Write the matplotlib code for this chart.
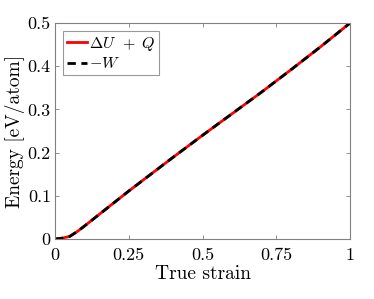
import matplotlib
matplotlib.use("Agg")
import matplotlib.pyplot as plt

# energy balance vs true strain
strain = [0, 0.025, 0.05, 0.075, 0.1, 0.15, 0.2, 0.25, 0.3, 0.4, 0.5, 0.6, 0.7, 0.8, 0.9, 1.0]
du_plus_q = [0, 0.002, 0.006, 0.017, 0.03, 0.057, 0.084, 0.111, 0.137, 0.189, 0.24,
             0.29, 0.34, 0.392, 0.445, 0.5]
minus_w = [0, 0.002, 0.006, 0.017, 0.03, 0.057, 0.084, 0.111, 0.137, 0.189, 0.24,
           0.29, 0.34, 0.392, 0.445, 0.5]

xticks = [0, 0.25, 0.5, 0.75, 1]
xticklabels = ["0", "0.25", "0.5", "0.75", "1"]
yticks = [0, 0.1, 0.2, 0.3, 0.4, 0.5]
yticklabels = ["0", "0.1", "0.2", "0.3", "0.4", "0.5"]

plt.rcParams["font.family"] = "serif"
plt.rcParams["font.serif"] = ["cmr10", "DejaVu Serif"]
plt.rcParams["mathtext.fontset"] = "cm"
plt.rcParams["axes.unicode_minus"] = False

fig = plt.figure(figsize=(3.74, 2.99), dpi=100)
ax = fig.add_axes([0.147, 0.2007, 0.789, 0.7223])

ax.plot(strain, du_plus_q, "-", color="#ff0000", linewidth=2.0, label=r"$\Delta U\;\,+\;Q$")
ax.plot(strain, minus_w, "--", color="black", linewidth=2.0, dashes=(3.0, 2.0), label=r"$-W$")

ax.set_xlim(0, 1)
ax.set_ylim(0, 0.5)
ax.set_xticks(xticks)
ax.set_xticklabels(xticklabels)
ax.set_yticks(yticks)
ax.set_yticklabels(yticklabels)
ax.tick_params(direction="in", top=True, right=True, length=3, width=0.6,
               color="#808080", labelsize=13, pad=3)
ax.tick_params(axis="x", pad=6)
for s in ax.spines.values():
    s.set_color("#808080")
    s.set_linewidth(0.8)

ax.set_xlabel("True strain", fontsize=14, labelpad=2)
ax.set_ylabel("Energy [eV/atom]", fontsize=14, labelpad=2)

leg = ax.legend(loc="upper left", fontsize=11.5, frameon=True, fancybox=False,
                handlelength=1.25, handletextpad=0.15, borderpad=0.25,
                labelspacing=0.2, borderaxespad=0.5)
leg.get_frame().set_edgecolor("#808080")
leg.get_frame().set_linewidth(0.8)

fig.savefig("out.png", dpi=100)
plt.close(fig)
